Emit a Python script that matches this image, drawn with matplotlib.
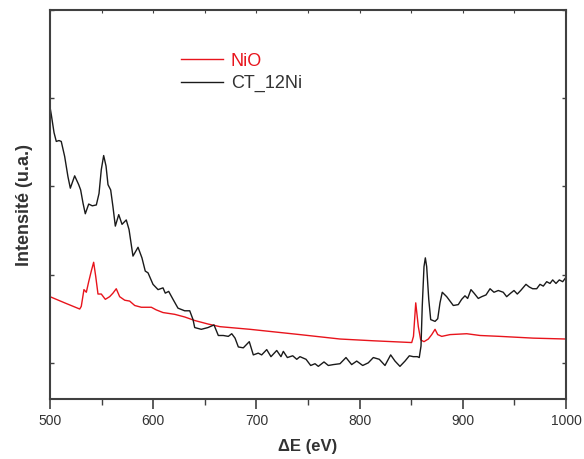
import numpy as np
import matplotlib
matplotlib.use("Agg")
import matplotlib.pyplot as plt
from matplotlib.ticker import MultipleLocator

plt.rcParams['font.family'] = ['Liberation Sans', 'DejaVu Sans']

# CT_12Ni spectrum (arbitrary units)
e_ct = [500, 501.3, 503.9, 506.1, 508.7, 510.9, 514.2, 517.4, 519.7, 523.9,
        527.8, 529.7, 532.0, 534.2, 537.5, 541.0, 544.9, 547.5, 549.7, 552.0,
        554.3, 556.2, 558.8, 561.0, 563.3, 566.6, 569.8, 573.9, 576.6, 580.4,
        585.3, 589.1, 592.3, 595.0, 599.8, 604.7, 609.5, 611.7, 615.0, 619.2,
        624.0, 630.5, 635.4, 638.6, 640.2, 646.6, 653.1, 658.9, 663.1, 667.9,
        672.8, 676.1, 679.3, 682.5, 687.3, 693.1, 697.0, 701.8, 705.1, 710.0,
        714.1, 719.7, 723.8, 726.1, 730.0, 735.2, 739.1, 742.2, 748.1, 752.6,
        756.8, 760.0, 765.5, 769.7, 774.5, 781.0, 786.8, 792.3, 797.2, 803.0,
        808.4, 813.3, 819.1, 824.6, 830.1, 834.3, 839.1, 844.0, 848.2, 852.0,
        855.9, 857.8, 859.5, 860.7, 862.4, 863.7, 865.0, 867.0, 868.9, 873.1,
        875.7, 877.9, 880.1, 884.4, 887.6, 890.8, 895.6, 898.9, 902.1, 904.7,
        907.9, 910.9, 915.0, 918.3, 922.5, 926.4, 930.2, 934.4, 939.2, 942.5,
        946.4, 949.6, 952.8, 956.1, 961.2, 964.4, 967.7, 971.6, 974.8, 978.0,
        981.3, 984.5, 987.1, 990.3, 993.5, 996.8, 1000]
i_ct = [3.90, 3.81, 3.61, 3.51, 3.52, 3.51, 3.34, 3.11, 2.98, 3.12,
        3.02, 2.96, 2.81, 2.69, 2.80, 2.78, 2.79, 2.92, 3.19, 3.35,
        3.23, 3.02, 2.96, 2.77, 2.55, 2.68, 2.57, 2.62, 2.51, 2.21,
        2.31, 2.19, 2.04, 2.02, 1.89, 1.83, 1.85, 1.79, 1.81, 1.72,
        1.62, 1.59, 1.59, 1.49, 1.40, 1.38, 1.40, 1.43, 1.31, 1.31,
        1.30, 1.33, 1.28, 1.18, 1.17, 1.24, 1.09, 1.11, 1.09, 1.15,
        1.07, 1.14, 1.07, 1.13, 1.06, 1.08, 1.04, 1.07, 1.04, 0.97,
        0.99, 0.96, 1.01, 0.97, 0.98, 0.99, 1.06, 0.98, 1.02, 0.97,
        1.00, 1.06, 1.04, 0.97, 1.09, 1.02, 0.96, 1.02, 1.08, 1.07,
        1.07, 1.06, 1.19, 1.64, 2.09, 2.19, 2.09, 1.72, 1.49, 1.47,
        1.50, 1.68, 1.80, 1.75, 1.70, 1.65, 1.66, 1.72, 1.76, 1.73,
        1.83, 1.79, 1.73, 1.75, 1.77, 1.84, 1.80, 1.82, 1.80, 1.75,
        1.79, 1.82, 1.78, 1.82, 1.89, 1.86, 1.84, 1.84, 1.89, 1.87,
        1.92, 1.90, 1.94, 1.90, 1.94, 1.92, 1.97]

# NiO reference spectrum
e_nio = [500, 514.2, 528.8, 530.3, 532.9, 535.2, 537.5, 540.0, 542.3, 544.3,
         546.5, 549.7, 553.6, 557.8, 561.0, 564.2, 567.5, 572.4, 577.2, 582.1,
         588.5, 598.2, 603.0, 609.5, 620.8, 630.5, 640.2, 653.1, 664.7, 693.8,
         742.2, 781.0, 813.3, 850.5, 852.2, 854.4, 856.9, 859.2, 862.4, 866.6,
         869.9, 873.1, 875.7, 879.6, 887.6, 903.8, 916.7, 936.0, 968.3, 1000]
i_nio = [1.75, 1.68, 1.61, 1.64, 1.83, 1.80, 1.92, 2.04, 2.14, 1.98,
         1.78, 1.78, 1.72, 1.75, 1.79, 1.84, 1.75, 1.71, 1.70, 1.65,
         1.63, 1.63, 1.60, 1.57, 1.55, 1.52, 1.48, 1.44, 1.41, 1.38,
         1.32, 1.27, 1.25, 1.23, 1.30, 1.68, 1.41, 1.26, 1.24, 1.27,
         1.32, 1.38, 1.32, 1.30, 1.32, 1.33, 1.31, 1.30, 1.28, 1.27]

fig = plt.figure(figsize=(5.84, 4.59), dpi=100)
ax = fig.add_axes([50/584, 1 - 399/459, 516/584, 389/459])

ax.plot(e_nio, i_nio, color='#e8141c', lw=1.0, label='NiO')
ax.plot(e_ct, i_ct, color='#1a1a1a', lw=1.0, label='CT_12Ni')

ax.set_xlim(500, 1000)
ax.set_ylim(0.59, 5.0)

ax.xaxis.set_major_locator(MultipleLocator(100))
ax.xaxis.set_minor_locator(MultipleLocator(50))
ax.yaxis.set_major_locator(MultipleLocator(1))

for s in ax.spines.values():
    s.set_color('#404040')
    s.set_linewidth(1.5)

ax.tick_params(axis='x', which='major', direction='out', length=7, width=1.2,
               color='#404040', labelsize=10, labelcolor='#333333', pad=4)
ax.tick_params(axis='x', which='minor', direction='out', length=4, width=1.0,
               color='#404040')
ax.tick_params(axis='y', which='both', direction='in', length=3, width=1.0,
               color='#404040', left=True, right=True, labelleft=False)

# small inward ticks along the top edge
top = ax.secondary_xaxis('top')
top.xaxis.set_major_locator(MultipleLocator(100))
top.xaxis.set_minor_locator(MultipleLocator(50))
top.tick_params(which='both', direction='in', length=2.5, width=0.8,
                color='#404040', labeltop=False)
top.spines['top'].set_visible(False)

ax.set_xlabel('ΔE (eV)', fontsize=12, fontweight='bold', color='#333333', labelpad=8)
ax.set_ylabel('Intensité (u.a.)', fontsize=13, fontweight='bold', color='#333333', labelpad=12)

ax.legend(loc='upper left', bbox_to_anchor=(0.254, 0.89), frameon=False,
          fontsize=13, handlelength=2.35, handletextpad=0.4, labelspacing=0.3,
          borderpad=0, borderaxespad=0, labelcolor=['#e8141c', '#333333'])

fig.savefig('out.png', dpi=100)
